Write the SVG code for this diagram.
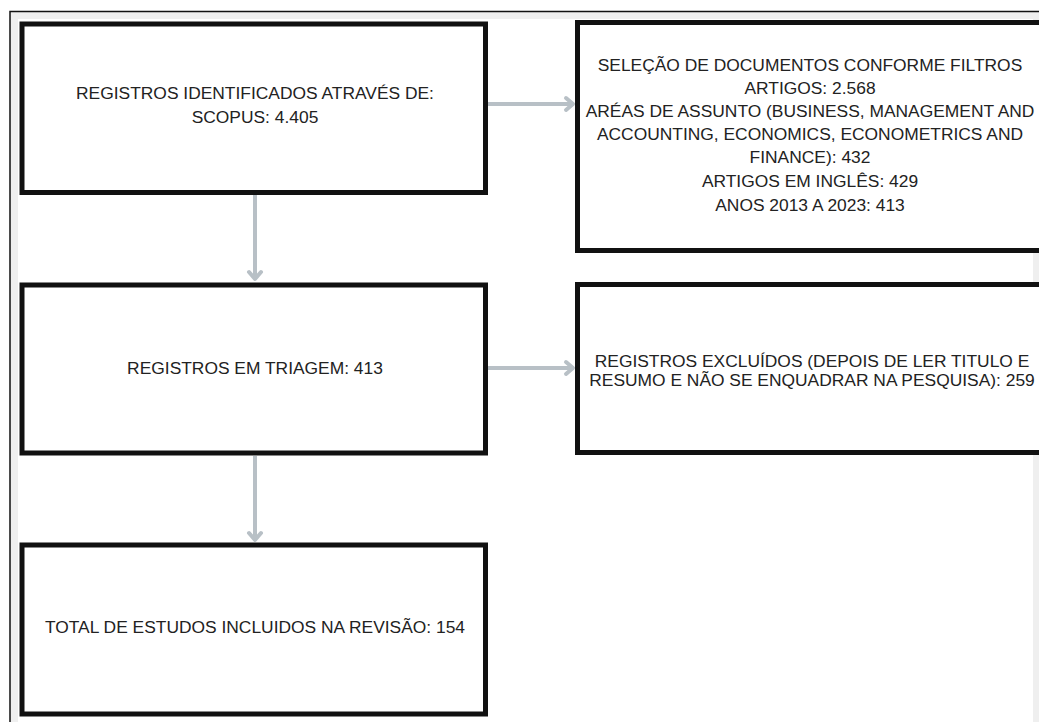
<svg xmlns="http://www.w3.org/2000/svg" width="1039" height="722" viewBox="0 0 1039 722">
  <style>
    .box { fill: #ffffff; stroke: #111111; stroke-width: 5; }
    .label { font-family: "Liberation Sans", Arial, sans-serif; font-size: 17.4px; fill: #222222; text-anchor: middle; }
    .conn { stroke: #b8c0c6; stroke-width: 4; fill: none; }
  </style>
  <defs>
    <marker id="chevron" markerUnits="userSpaceOnUse" markerWidth="16" markerHeight="16" viewBox="0 0 16 16" refX="13" refY="8" orient="auto" overflow="visible">
      <path d="M6,2 L13,8 L6,14" fill="none" stroke="#b8c0c6" stroke-width="4" stroke-linecap="round" stroke-linejoin="round"/>
    </marker>
  </defs>

  <!-- page frame -->
  <rect x="0" y="0" width="1039" height="722" fill="#ffffff"/>
  <rect x="10" y="11.5" width="1040" height="720" fill="#efefef" stroke="#111111" stroke-width="1.5"/>
  <rect x="18" y="19" width="1015" height="710" fill="#ffffff"/>

  <!-- connectors -->
  <g id="connectors">
    <line class="conn" x1="255" y1="195" x2="255" y2="279" marker-end="url(#chevron)"/>
    <line class="conn" x1="255" y1="456" x2="255" y2="540" marker-end="url(#chevron)"/>
    <line class="conn" x1="488" y1="104" x2="573" y2="104" marker-end="url(#chevron)"/>
    <line class="conn" x1="488" y1="368" x2="573" y2="368" marker-end="url(#chevron)"/>
  </g>

  <g id="identificados">
    <rect class="box" x="22" y="24" width="463.5" height="168.5"/>
    <text class="label" x="255" y="99">REGISTROS IDENTIFICADOS ATRAVÉS DE:</text>
    <text class="label" x="255" y="123">SCOPUS: 4.405</text>
  </g>

  <g id="selecao">
    <rect class="box" x="577.5" y="22.5" width="480" height="228"/>
    <text class="label" x="810" y="71">SELEÇÃO DE DOCUMENTOS CONFORME FILTROS</text>
    <text class="label" x="810" y="94">ARTIGOS: 2.568</text>
    <text class="label" x="810" y="117">ARÉAS DE ASSUNTO (BUSINESS, MANAGEMENT AND</text>
    <text class="label" x="810" y="140">ACCOUNTING, ECONOMICS, ECONOMETRICS AND</text>
    <text class="label" x="810" y="163">FINANCE): 432</text>
    <text class="label" x="810" y="187">ARTIGOS EM INGLÊS: 429</text>
    <text class="label" x="810" y="211">ANOS 2013 A 2023: 413</text>
  </g>

  <g id="triagem">
    <rect class="box" x="22" y="285" width="463.5" height="168"/>
    <text class="label" x="255" y="374">REGISTROS EM TRIAGEM: 413</text>
  </g>

  <g id="excluidos">
    <rect class="box" x="577.5" y="284.5" width="480" height="168"/>
    <text class="label" x="812" y="367">REGISTROS EXCLUÍDOS (DEPOIS DE LER TITULO E</text>
    <text class="label" x="812" y="386">RESUMO E NÃO SE ENQUADRAR NA PESQUISA): 259</text>
  </g>

  <g id="total">
    <rect class="box" x="22" y="545" width="463.5" height="169"/>
    <text class="label" x="255" y="633">TOTAL DE ESTUDOS INCLUIDOS NA REVISÃO: 154</text>
  </g>
</svg>
